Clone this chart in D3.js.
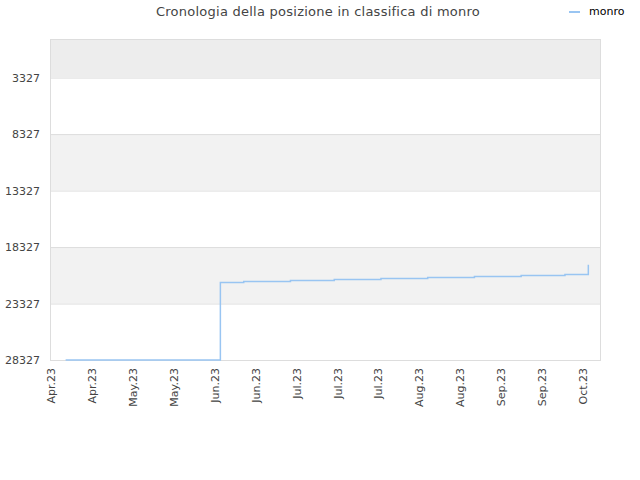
<!DOCTYPE html>
<html>
<head>
<meta charset="utf-8">
<script src="https://cdn.jsdelivr.net/npm/d3@7"></script>
<style>
  body { margin: 0; background: #fff; }
  text { font-family: "DejaVu Sans", sans-serif; }
</style>
</head>
<body>
<svg id="chart" width="640" height="480"></svg>
<script>
const width = 640, height = 480;
const margin = { top: 40, right: 40, bottom: 120, left: 51 };

// data
const dates = ["2023-04-14", "2023-06-06", "2023-06-14", "2023-06-30", "2023-07-15",
    "2023-07-31", "2023-08-16", "2023-09-01", "2023-09-17", "2023-10-02", "2023-10-10"];
const ranks = [28327, 21474, 21386, 21297, 21208, 21120, 21031, 20943, 20854, 20765, 19905];
const yTicks = [3327, 8327, 13327, 18327, 23327, 28327];
const xTickDates = ["2023-04-09", "2023-04-23", "2023-05-07", "2023-05-21", "2023-06-04",
    "2023-06-18", "2023-07-02", "2023-07-16", "2023-07-30", "2023-08-13", "2023-08-27",
    "2023-09-10", "2023-09-24", "2023-10-08"];
const monthLabels = ["Jan.", "Feb.", "Mar.", "Apr.", "May.", "Jun.", "Jul.", "Aug.", "Sep.", "Oct.", "Nov.", "Dec."];
const seriesName = "monro";

const parse = d3.timeParse("%Y-%m-%d");
const points = dates.map((d, i) => ({ date: parse(d), rank: ranks[i] }));

const svg = d3.select("#chart");

const x = d3.scaleTime()
    .domain([parse("2023-04-09"), parse("2023-10-14")])
    .range([margin.left, width - margin.right]);

const y = d3.scaleLinear()
    .domain([0, 28327])
    .range([margin.top, height - margin.bottom]);

// background bands
const bandEdges = [0].concat(yTicks);
const bandColors = ["#ededed", "#ffffff", "#f2f2f2", "#ffffff", "#f2f2f2", "#ffffff"];
svg.append("g").selectAll("rect")
    .data(d3.pairs(bandEdges))
    .enter()
    .append("rect")
    .attr("x", margin.left)
    .attr("width", width - margin.right - margin.left)
    .attr("y", d => y(d[0]))
    .attr("height", d => y(d[1]) - y(d[0]))
    .attr("fill", (d, i) => bandColors[i]);

// grid lines
svg.append("g").selectAll("line")
    .data(yTicks)
    .enter()
    .append("line")
    .attr("x1", margin.left).attr("x2", width - margin.right)
    .attr("y1", d => y(d) + 0.5).attr("y2", d => y(d) + 0.5)
    .attr("stroke", "#dddddd");

// plot border
svg.append("rect")
    .attr("x", margin.left - 0.5).attr("y", margin.top - 0.5)
    .attr("width", width - margin.right - margin.left + 1)
    .attr("height", height - margin.bottom - margin.top + 1)
    .attr("fill", "none")
    .attr("stroke", "#dddddd");

// y axis
svg.append("g")
    .attr("transform", `translate(${margin.left},0)`)
    .call(d3.axisLeft(y).tickValues(yTicks).tickSize(0).tickPadding(11).tickFormat(d3.format("d")))
    .call(g => g.select(".domain").remove())
    .call(g => g.selectAll("text").style("fill", "#444").style("font-size", "11px")
        .style("font-family", "'DejaVu Sans', sans-serif"));

// x axis
svg.append("g")
    .attr("transform", `translate(0,${height - margin.bottom})`)
    .call(d3.axisBottom(x).tickValues(xTickDates.map(parse)).tickSize(0)
        .tickFormat(d => monthLabels[d.getMonth()] + d3.timeFormat("%y")(d)))
    .call(g => g.select(".domain").remove())
    .call(g => g.selectAll("text")
        .attr("transform", "rotate(-90)")
        .attr("text-anchor", "end")
        .attr("x", -8).attr("y", 0).attr("dy", "0.35em")
        .style("fill", "#444").style("font-size", "11px")
        .style("font-family", "'DejaVu Sans', sans-serif"));

// line
const line = d3.line()
    .x(d => x(d.date))
    .y(d => y(d.rank))
    .curve(d3.curveStepAfter);

svg.append("path")
    .datum(points)
    .attr("d", line)
    .attr("fill", "none")
    .attr("stroke", "#99c5f2")
    .attr("stroke-width", 1.5);

// title
svg.append("text")
    .attr("x", 318).attr("y", 16)
    .attr("text-anchor", "middle")
    .style("font-size", "13px")
    .style("letter-spacing", "0.25px")
    .style("fill", "#444")
    .text("Cronologia della posizione in classifica di " + seriesName);

// legend
svg.append("line")
    .attr("x1", 569).attr("x2", 580).attr("y1", 12).attr("y2", 12)
    .attr("stroke", "#99c5f2").attr("stroke-width", 2);
svg.append("text")
    .attr("x", 589).attr("y", 15)
    .style("font-size", "11px")
    .style("fill", "#000")
    .text(seriesName);
</script>
</body>
</html>
